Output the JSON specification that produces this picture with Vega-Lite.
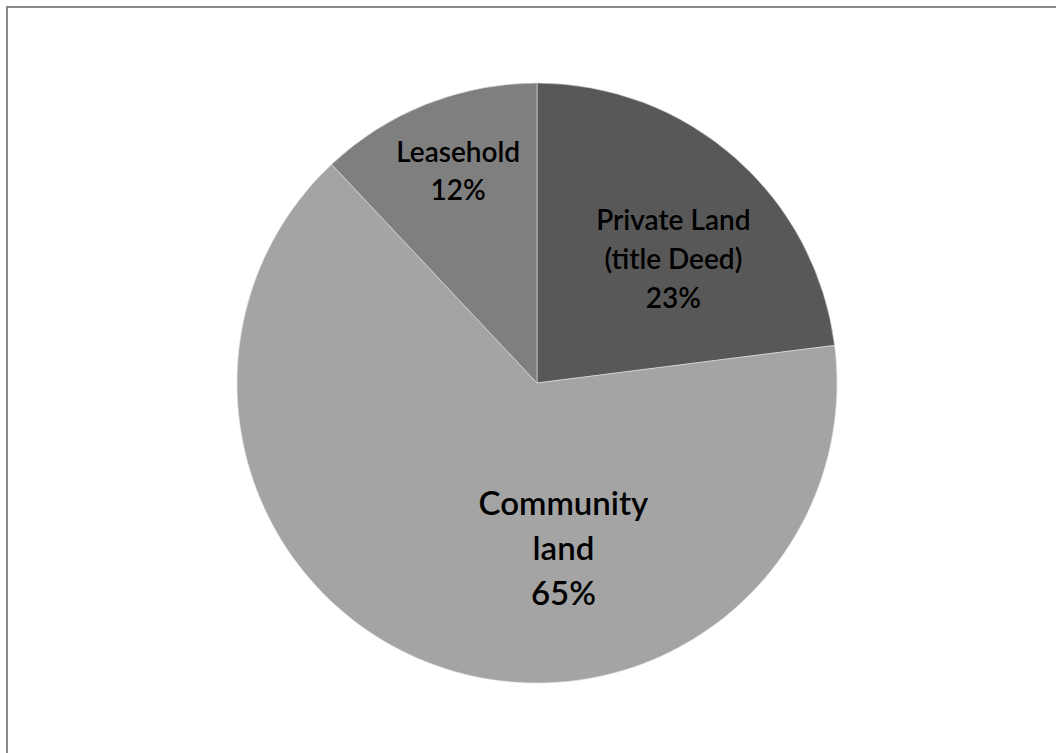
{
  "$schema": "https://vega.github.io/schema/vega-lite/v6.json",
  "autosize": {"type": "none"},
  "width": 1060,
  "height": 752,
  "padding": {"left": 7, "top": 7, "right": 0, "bottom": 0},
  "background": "#ffffff",
  "view": {"stroke": "#888888", "strokeWidth": 2},
  "data": {
    "values": [
      {"category": "Private Land (title Deed)", "label": "Private Land\n(title Deed)\n23%", "share": 23, "seq": 1},
      {"category": "Community land", "label": "Community\nland\n65%", "share": 65, "seq": 2},
      {"category": "Leasehold", "label": "Leasehold\n12%", "share": 12, "seq": 3}
    ]
  },
  "encoding": {
    "theta": {"field": "share", "type": "quantitative", "stack": true},
    "order": {"field": "seq", "type": "quantitative"}
  },
  "layer": [
    {
      "mark": {"type": "arc", "outerRadius": 300, "stroke": "#e0e0e0", "strokeWidth": 0.6},
      "encoding": {
        "color": {
          "field": "category",
          "type": "nominal",
          "scale": {
            "domain": ["Private Land (title Deed)", "Community land", "Leasehold"],
            "range": ["#585858", "#a4a4a4", "#7f7f7f"]
          },
          "legend": null
        }
      }
    },
    {
      "mark": {"type": "text", "radius": 225, "dx": 4, "dy": -12, "font": "Lato", "fontWeight": 600, "fontSize": 28, "lineHeight": 38, "lineBreak": "\n", "color": "#000000", "align": "center", "baseline": "alphabetic"},
      "encoding": {
        "detail": {"field": "category"},
        "text": {"condition": {"test": "datum.category === 'Leasehold'", "field": "label"}, "value": ""}
      }
    },
    {
      "mark": {"type": "text", "radius": 185, "dx": 14, "dy": -14, "font": "Lato", "fontWeight": 600, "fontSize": 28, "lineHeight": 39, "lineBreak": "\n", "color": "#000000", "align": "center", "baseline": "alphabetic"},
      "encoding": {
        "detail": {"field": "category"},
        "text": {"condition": {"test": "datum.category === 'Private Land (title Deed)'", "field": "label"}, "value": ""}
      }
    },
    {
      "mark": {"type": "text", "radius": 170, "dx": 84, "dy": -28, "font": "Lato", "fontWeight": 600, "fontSize": 33, "lineHeight": 45, "lineBreak": "\n", "color": "#000000", "align": "center", "baseline": "alphabetic"},
      "encoding": {
        "detail": {"field": "category"},
        "text": {"condition": {"test": "datum.category === 'Community land'", "field": "label"}, "value": ""}
      }
    }
  ]
}
